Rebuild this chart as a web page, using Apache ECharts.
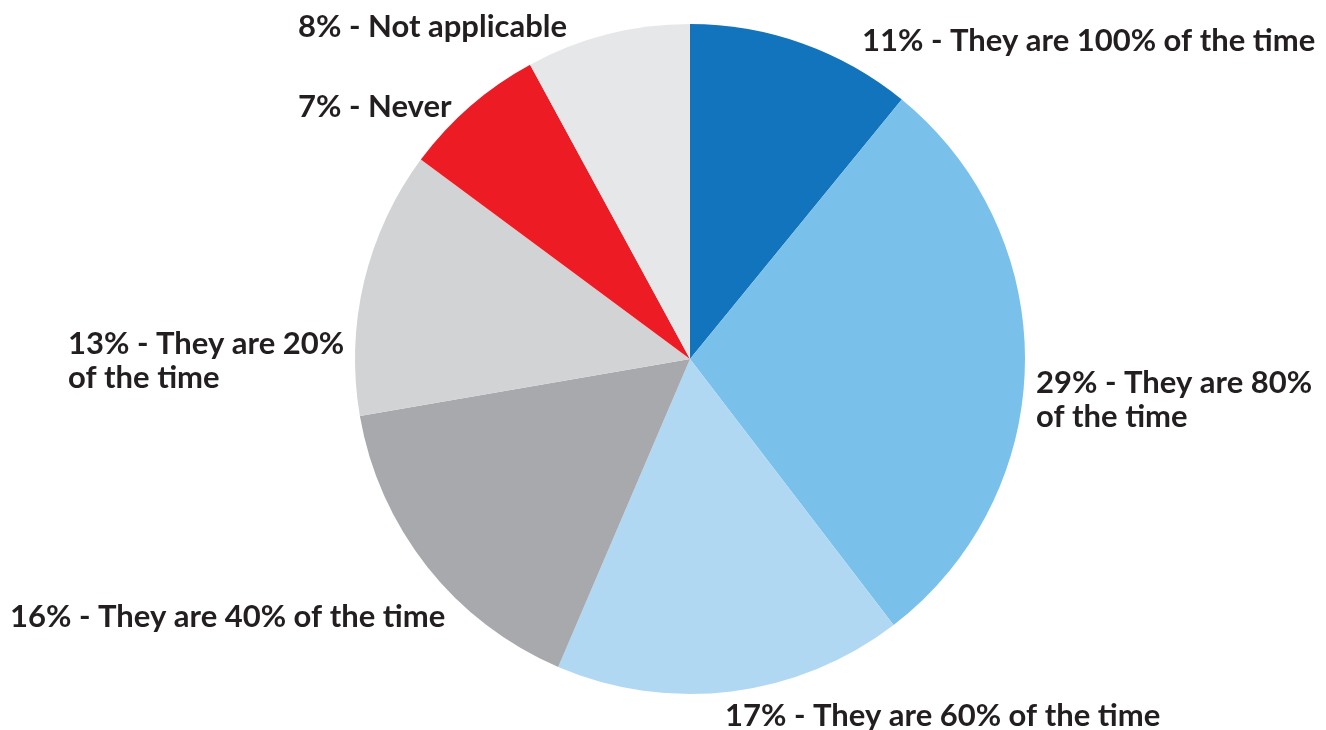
<!DOCTYPE html>
<html>
<head>
<meta charset="utf-8">
<script src="https://cdn.jsdelivr.net/npm/echarts@6/dist/echarts.min.js"></script>
<style>
  html, body { margin: 0; padding: 0; background: #ffffff; }
  #chart { width: 1326px; height: 730px; }
</style>
</head>
<body>
<div id="chart"></div>
<script>
// Survey answers, clockwise from 12 o'clock
const categories = [
  'They are 100% of the time',
  'They are 80%\nof the time',
  'They are 60% of the time',
  'They are 40% of the time',
  'They are 20%\nof the time',
  'Never',
  'Not applicable'
];
const percents = [11, 29, 17, 16, 13, 7, 8];
const colors = ['#1174bc', '#79c0eb', '#b1d8f2', '#a7a9ac', '#d1d3d4', '#ed1c24', '#e6e7e8'];

// Where each label sits (left edge, vertical middle)
const labelSpots = [
  [862, 41], [1036, 400], [725, 716], [10, 617], [68, 361], [298, 107], [298, 27]
];

const chart = echarts.init(document.getElementById('chart'));
chart.setOption({
  animation: false,
  series: [{
    type: 'pie',
    center: [690, 359],
    radius: 335,
    startAngle: 90,
    clockwise: true,
    avoidLabelOverlap: false,
    itemStyle: { borderWidth: 0 },
    emphasis: { disabled: true },
    data: categories.map((name, i) => ({
      name: name,
      value: percents[i],
      itemStyle: { color: colors[i] }
    })),
    label: {
      show: true,
      position: 'outside',
      overflow: 'none',
      formatter: p => p.value + '% - ' + p.name,
      fontFamily: 'Lato',
      fontWeight: 'bold',
      fontSize: 31,
      lineHeight: 34,
      color: '#231f20'
    },
    labelLine: { show: false },
    labelLayout: p => ({
      x: labelSpots[p.dataIndex][0],
      y: labelSpots[p.dataIndex][1],
      align: 'left',
      verticalAlign: 'middle'
    })
  }]
});
</script>
</body>
</html>
